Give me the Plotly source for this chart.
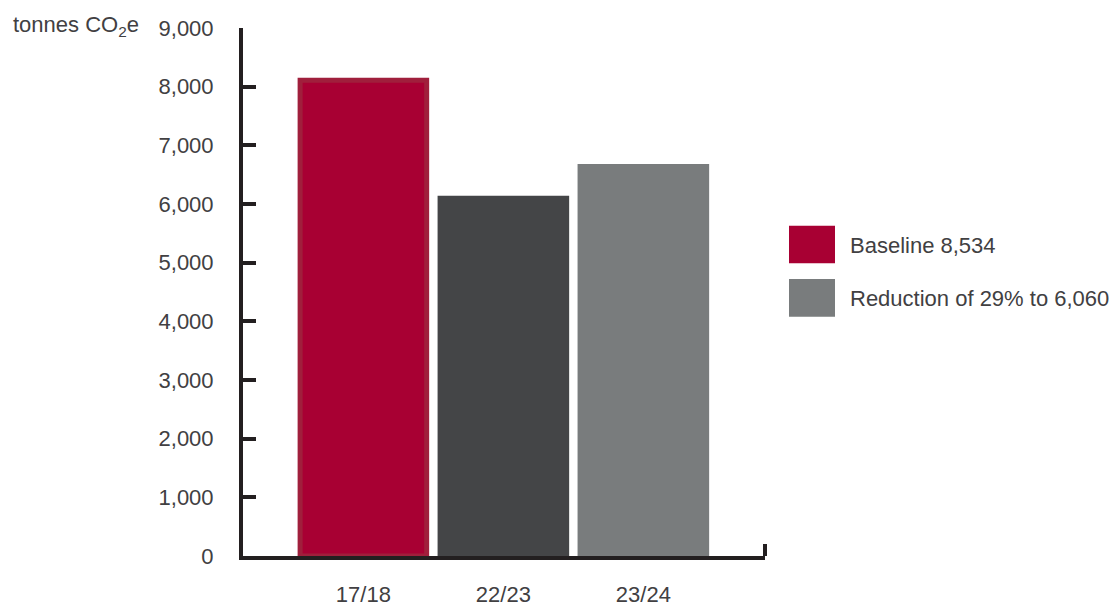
import plotly.graph_objects as go

# ---- data ----
categories = ["17/18", "22/23", "23/24"]
values = [8110, 6140, 6680]
bar_colors = ["#a80033", "#444547", "#797c7d"]
y_tickvals = [0, 1000, 2000, 3000, 4000, 5000, 6000, 7000, 8000, 9000]
y_ticktext = ["0", "1,000", "2,000", "3,000", "4,000", "5,000", "6,000", "7,000", "8,000", "9,000"]
legend_labels = ["Baseline 8,534", "Reduction of 29% to 6,060"]
legend_colors = ["#a80033", "#797c7d"]
y_title = "tonnes CO<sub>2</sub>e"

# ---- layout geometry (pixels) ----
W, H = 1119, 609
L, R, T, B = 243, 1119 - 765, 28, 609 - 556
pw, ph = W - L - R, H - T - B

def px(x):
    return (x - L) / pw

def py(y):
    return (H - B - y) / ph

FONT = "Liberation Sans, Arial, Helvetica, sans-serif"
FS = 22
TXT = "#414042"
AX = "#231f20"

fig = go.Figure()
fig.add_trace(go.Bar(
    x=categories,
    y=values,
    marker=dict(color=bar_colors,
                line=dict(color=["#a01f3c", "rgba(0,0,0,0)", "rgba(0,0,0,0)"],
                          width=[5, 0, 0])),
    width=[0.904, 0.94, 0.94],
    showlegend=False,
))

shapes = []
annotations = []
# legend
leg_boxes = [(225.7, 263.3), (279.0, 316.7)]
for (y0, y1), col, lab in zip(leg_boxes, legend_colors, legend_labels):
    shapes.append(dict(type="rect", xref="paper", yref="paper",
                       x0=px(789), x1=px(835), y0=py(y1), y1=py(y0),
                       fillcolor=col, line=dict(width=0)))
    annotations.append(dict(xref="paper", yref="paper", x=px(848), y=py((y0 + y1) / 2 + 1),
                            text=lab, showarrow=False, xanchor="left", yanchor="middle",
                            font=dict(family=FONT, size=FS, color=TXT)))
# y title
annotations.append(dict(xref="paper", yref="paper", x=px(11), y=py(26),
                        text=y_title, showarrow=False, xanchor="left", yanchor="middle",
                        font=dict(family=FONT, size=FS, color=TXT)))
# right end tick on x axis
shapes.append(dict(type="line", xref="paper", yref="paper",
                   x0=px(765), x1=px(765), y0=0, y1=py(544),
                   line=dict(color=AX, width=4)))

fig.update_layout(
    width=W, height=H,
    margin=dict(l=L, r=R, t=T, b=B, pad=0, autoexpand=False),
    paper_bgcolor="white", plot_bgcolor="white",
    font=dict(family=FONT, size=FS, color=TXT),
    shapes=shapes, annotations=annotations,
    bargap=0.06,
    xaxis=dict(range=[-0.86, 2.869], showline=True, linecolor=AX, linewidth=4,
               ticks="", showgrid=False, zeroline=False, fixedrange=True, automargin=False,
               tickfont=dict(family=FONT, size=FS, color=TXT), ticklabelstandoff=16),
    yaxis=dict(range=[0, 9000], showline=True, linecolor=AX, linewidth=4,
               ticks="inside", ticklen=13, tickwidth=4, tickcolor=AX,
               tickvals=y_tickvals, ticktext=y_ticktext, automargin=False,
               showgrid=False, zeroline=False, fixedrange=True,
               tickfont=dict(family=FONT, size=FS, color=TXT), ticklabelstandoff=21),
)

fig.write_html("out.html")
